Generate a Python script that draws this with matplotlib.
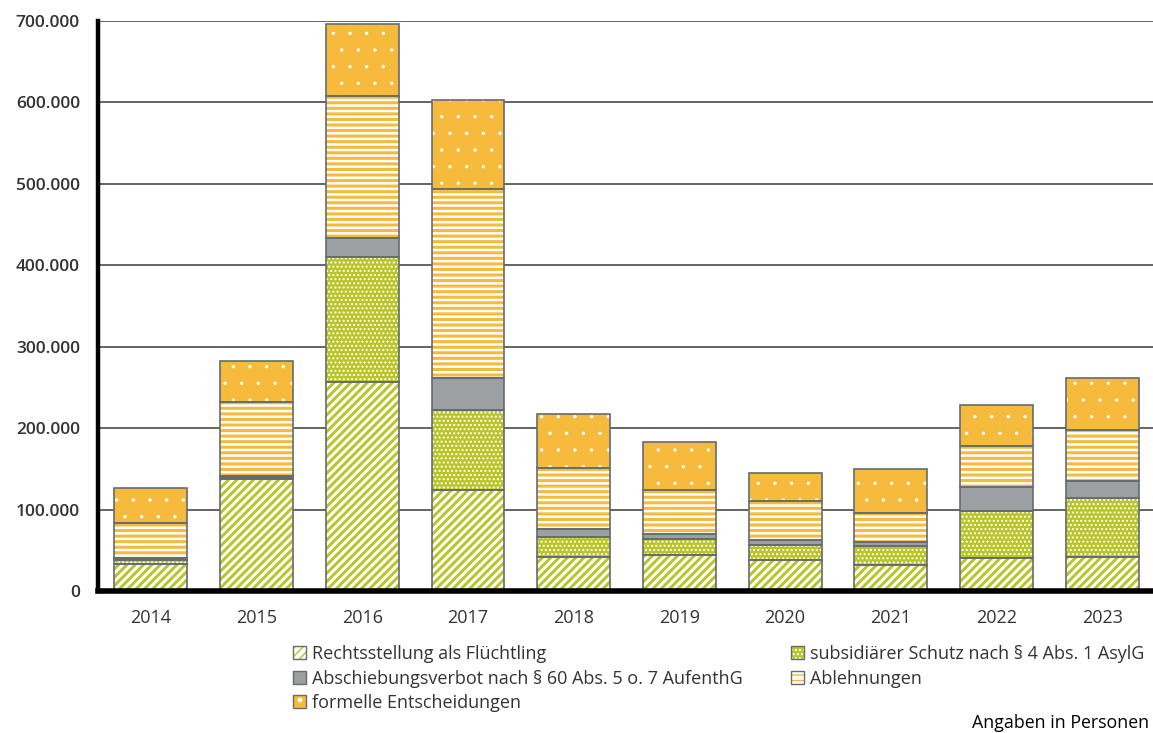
import matplotlib
matplotlib.use("Agg")
import matplotlib.pyplot as plt
import numpy as np
from matplotlib.patches import Patch
from matplotlib.legend_handler import HandlerTuple
from matplotlib.ticker import FuncFormatter

years = ["2014", "2015", "2016", "2017", "2018", "2019", "2020", "2021", "2022", "2023"]
fluechtling = [33310, 137136, 256136, 123909, 41368, 44592, 37818, 32065, 40911, 42354]
subsidiaer = [5174, 1707, 153700, 98074, 25055, 19419, 18950, 22996, 57532, 71801]
abschiebung = [2079, 2072, 24084, 39659, 9548, 5857, 5702, 5446, 29084, 21117]
ablehnungen = [43018, 91514, 173846, 232307, 75395, 54034, 47847, 34923, 50081, 62379]
formelle = [43358, 50297, 87967, 109479, 65507, 59589, 35178, 54150, 50902, 63609]

labels = ["Rechtsstellung als Flüchtling",
          "subsidiärer Schutz nach § 4 Abs. 1 AsylG",
          "Abschiebungsverbot nach § 60 Abs. 5 o. 7 AufenthG",
          "Ablehnungen",
          "formelle Entscheidungen"]

GREEN = "#b9c525"
ORANGE = "#f6bb3d"
GRAY = "#9ca0a2"
EDGE = "#646c70"
TEXT = "#333333"

# (face, hatch, hatch colour, hatch linewidth)
styles = [
    ("white", "////", GREEN, 2.1),
    (GREEN, "....", "white", 1.0),
    (GRAY, None, GRAY, 1.0),
    ("white", "---", ORANGE, 2.2),
    (ORANGE, ".", "white", 0.0),
]

plt.rcParams["font.family"] = ["Open Sans", "DejaVu Sans"]

fig = plt.figure(figsize=(11.53, 7.33), dpi=100)
ax = fig.add_axes([98 / 1153, 1 - 591 / 733, 1 - 98 / 1153, (591 - 21) / 733])

x = np.arange(len(years))
width = 0.69
series = [fluechtling, subsidiaer, abschiebung, ablehnungen, formelle]
bottom = np.zeros(len(years))
handles = []
for vals, (face, hatch, hcol, hlw), lab in zip(series, styles, labels):
    vals = np.array(vals, dtype=float)
    with plt.rc_context({"hatch.linewidth": hlw}):
        fill = ax.bar(x, vals, width, bottom=bottom, color=face, edgecolor=hcol,
                      hatch=hatch, linewidth=0, zorder=3)
        for p in fill:
            if hasattr(p, "set_hatch_linewidth"):
                p.set_hatch_linewidth(hlw)
        ax.bar(x, vals, width, bottom=bottom, facecolor="none", edgecolor=EDGE,
               linewidth=1.2, zorder=4)
        h_fill = Patch(facecolor=face, edgecolor=hcol, hatch=hatch, linewidth=0)
        if hasattr(h_fill, "set_hatch_linewidth"):
            h_fill.set_hatch_linewidth(hlw)
    h_edge = Patch(facecolor="none", edgecolor=EDGE, linewidth=1.0)
    handles.append((h_fill, h_edge))
    bottom += vals

ax.set_xlim(-0.5, 9.48)
ax.set_ylim(0, 700000)
ax.set_yticks(np.arange(0, 700001, 100000))
ax.yaxis.set_major_formatter(FuncFormatter(lambda v, p: f"{int(v):,}".replace(",", ".")))
ax.set_xticks(x)
ax.set_xticklabels(years)
ax.tick_params(axis="both", length=0, colors=TEXT)
ax.tick_params(axis="y", pad=13, labelsize=12.5)
ax.tick_params(axis="x", pad=13, labelsize=13)
for t in ax.get_yticklabels():
    t.set_fontweight("semibold")

ax.grid(axis="y", color="#3a3a3a", linewidth=1.1, zorder=0)
ax.set_axisbelow(True)
for s in ["top", "right"]:
    ax.spines[s].set_visible(False)
ax.spines["left"].set_linewidth(3.2)
ax.spines["left"].set_color("black")
ax.spines["bottom"].set_linewidth(4.0)
ax.spines["bottom"].set_color("black")
ax.spines["bottom"].set_zorder(5)

order = [0, 2, 4, 1, 3]
leg = fig.legend([handles[i] for i in order], [labels[i] for i in order],
                 handler_map={tuple: HandlerTuple(ndivide=1)},
                 loc="upper left", bbox_to_anchor=(293 / 1153, 1 - 645 / 733),
                 ncol=2, frameon=False, fontsize=13, borderpad=0,
                 handlelength=0.7, handleheight=0.7, handletextpad=0.35,
                 labelspacing=0.36, columnspacing=2.7, borderaxespad=0)
for t in leg.get_texts():
    t.set_color(TEXT)

fig.text(0.997, 1 - 723 / 733, "Angaben in Personen", ha="right", va="center",
         fontsize=12.8, color="black")

fig.savefig("out.png", dpi=100)
